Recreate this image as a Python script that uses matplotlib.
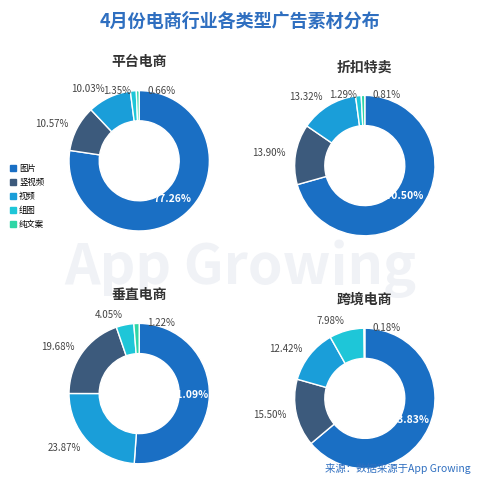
import numpy as np
import matplotlib.pyplot as plt
from matplotlib.patches import Patch

plt.rcParams['font.family'] = ['Noto Sans CJK SC', 'DejaVu Sans']

categories = ['图片', '竖视频', '视频', '组图', '纯文案']
colors = ['#1a6fc4', '#3c5a7c', '#1a9ed9', '#1ec6d8', '#2fd6a6']
groups = ['平台电商', '折扣特卖', '垂直电商', '跨境电商']
values = {
    '平台电商': [77.26, 10.57, 10.03, 1.35, 0.66],
    '折扣特卖': [70.50, 13.90, 13.32, 1.29, 0.81],
    '垂直电商': [51.09, 19.68, 23.87, 4.05, 1.22],
    '跨境电商': [63.83, 15.50, 12.42, 7.98, 0.18],
}
centers = {'平台电商': (0.29, 0.665), '折扣特卖': (0.76, 0.655),
           '垂直电商': (0.29, 0.18), '跨境电商': (0.76, 0.17)}

fig = plt.figure(figsize=(4.8, 4.8), dpi=100)
fig.text(0.5, 0.955, '4月份电商行业各类型广告素材分布', ha='center', va='center',
         fontsize=13, fontweight='bold', color='#2f6fc0')
fig.text(0.5, 0.44, 'App Growing', ha='center', va='center', fontsize=40,
         color='#f0f2f6', style='italic', fontweight='bold', zorder=-1)

for g in groups:
    cx, cy = centers[g]
    ax = fig.add_axes([cx - 0.17, cy - 0.17, 0.34, 0.34])
    v = np.array(values[g])
    order = np.argsort(-v)
    vs = v[order]
    cs = [colors[i] for i in order]
    wedges, _ = ax.pie(vs, colors=cs, startangle=90, counterclock=False, radius=0.86,
                       wedgeprops=dict(width=0.37, edgecolor='white', linewidth=1))
    for k, (w, val) in enumerate(zip(wedges, vs)):
        ang = np.deg2rad((w.theta1 + w.theta2) / 2)
        txt = f'{val:.2f}%'
        if k == 0:
            r = 0.62
            ax.text(r * np.cos(ang), r * np.sin(ang), txt, ha='center', va='center',
                    color='white', fontsize=7.5, fontweight='bold')
        elif val < 2:
            x = 0.1 if k == 4 else -0.1
            ax.text(x, 0.86, txt, ha='left' if k == 4 else 'right', va='center',
                    fontsize=7, color='#444444')
        else:
            r = 0.98
            x, y = r * np.cos(ang), r * np.sin(ang)
            ax.text(x, y, txt, ha='right' if x < 0 else 'left', va='center',
                    fontsize=7, color='#444444')
    ax.set_xlim(-1, 1)
    ax.set_ylim(-1, 1)
    ax.set_aspect('equal')
    ax.axis('off')
    fig.text(cx, cy + 0.205, g, ha='center', va='center', fontsize=10,
             fontweight='bold', color='#333333')

handles = [Patch(color=c, label=l) for c, l in zip(colors, categories)]
fig.legend(handles=handles, loc='upper left', bbox_to_anchor=(0.005, 0.675), frameon=False,
           fontsize=6, handlelength=0.7, handleheight=0.7, labelspacing=0.6, handletextpad=0.4)
fig.text(0.98, 0.025, '来源：数据来源于App Growing', ha='right', va='center',
         fontsize=7.5, color='#2f6fc0')
fig.savefig('out.png', dpi=100)
